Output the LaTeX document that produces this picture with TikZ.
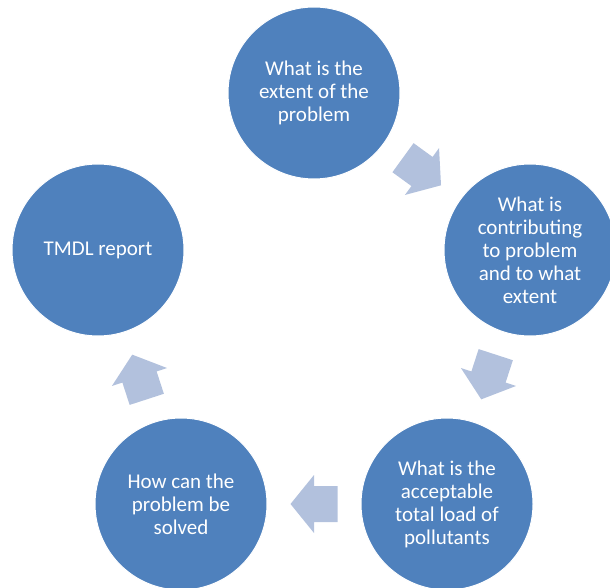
\documentclass[tikz,border=0pt]{standalone}
\usepackage{fontspec}
\setmainfont{Carlito}
\usetikzlibrary{calc}
\definecolor{stageblue}{RGB}{79,129,189}
\definecolor{arrowblue}{RGB}{178,193,221}

\begin{document}
\begin{tikzpicture}[x=1pt, y=1pt,
    stage/.style={circle, fill=stageblue, draw=white, line width=1pt,
      minimum size=172pt, inner sep=0pt, text=white, align=center,
      font=\fontsize{21}{23}\selectfont},
    blockarrow/.style={fill=arrowblue, draw=none}]
    \useasboundingbox (0,0) rectangle (610,-588);
    % Stages of the cycle
    \node [stage] (extent) at (314,-93) {What is the\\extent of the\\problem};
    \node [stage] (contrib) at (530,-250) {What is\\contributing\\to problem\\and to what\\extent};
    \node [stage] (load) at (447,-504) {What is the\\acceptable\\total load of\\pollutants};
    \node [stage] (solve) at (181,-504) {How can the\\problem be\\solved};
    \node [stage] (report) at (98,-250) {TMDL report};
    % Arrows between stages
    \fill [blockarrow, shift={($(extent)!0.5!(contrib)$)}, rotate=-36]
      (-23.5,-18) -- (0,-18) -- (0,-29) -- (23.5,0) -- (0,29) -- (0,18) -- (-23.5,18) -- cycle;
    \fill [blockarrow, shift={($(contrib)!0.5!(load)$)}, rotate=-108]
      (-23.5,-18) -- (0,-18) -- (0,-29) -- (23.5,0) -- (0,29) -- (0,18) -- (-23.5,18) -- cycle;
    \fill [blockarrow, shift={($(load)!0.5!(solve)$)}, rotate=180]
      (-23.5,-18) -- (0,-18) -- (0,-29) -- (23.5,0) -- (0,29) -- (0,18) -- (-23.5,18) -- cycle;
    \fill [blockarrow, shift={($(solve)!0.5!(report)$)}, rotate=108]
      (-23.5,-18) -- (0,-18) -- (0,-29) -- (23.5,0) -- (0,29) -- (0,18) -- (-23.5,18) -- cycle;
\end{tikzpicture}
\end{document}
